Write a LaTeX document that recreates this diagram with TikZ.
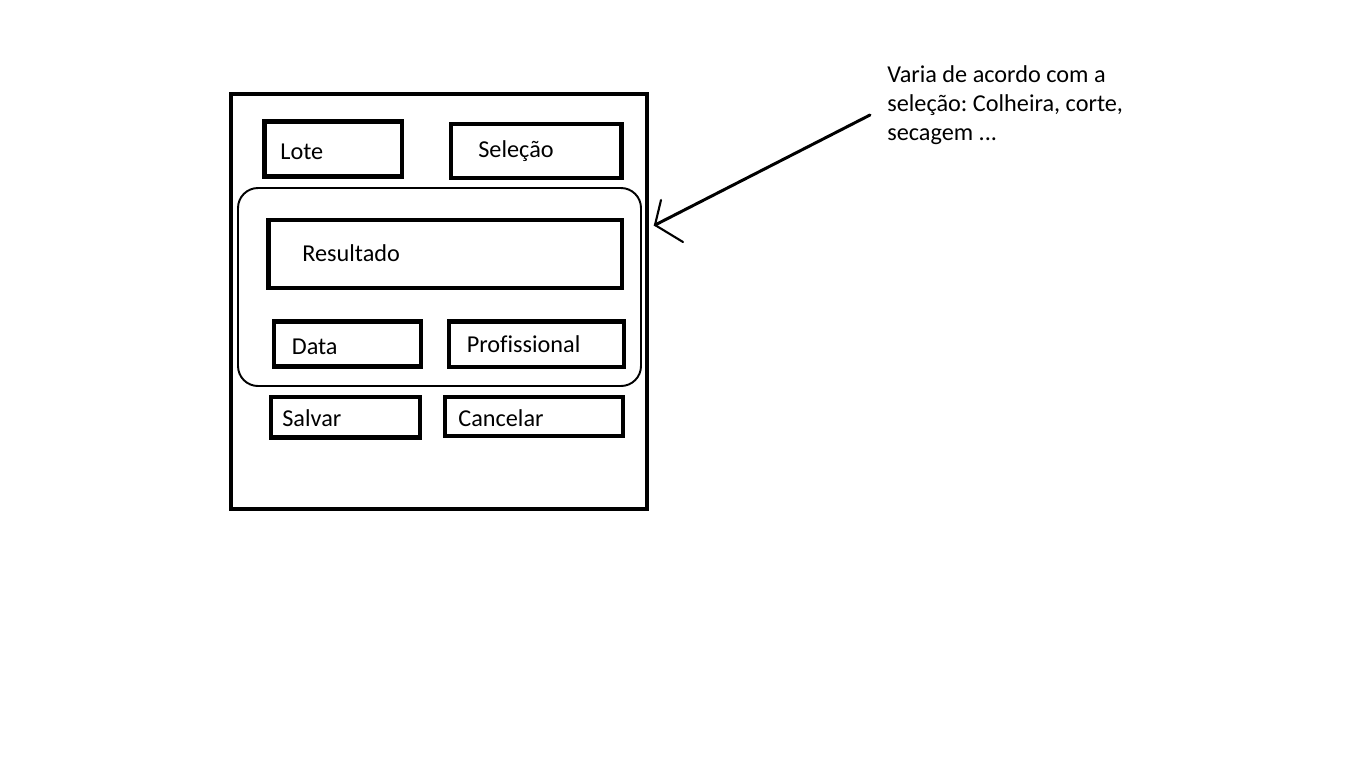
\documentclass[tikz,border=0pt]{standalone}
\usepackage{fontspec}
\setmainfont{Carlito}[Ligatures = CommonOff]
\usetikzlibrary{fit}
\frenchspacing

\tikzset{
  box/.style = {draw, line width = 2.3pt, inner sep = 0pt},
  group/.style = {draw, line width = 1.1pt, inner sep = 0pt, rounded corners = 0.4cm},
  lbl/.style = {anchor = base west, inner sep = 0pt, font = \fontsize{13.8pt}{16.6pt}\selectfont},
}

\begin{document}
\begin{tikzpicture}[x = 0.02cm, y = -0.02cm]
		\useasboundingbox (0, 0) rectangle (1362, 762);
		%%%%%%%%%%%%%
		\node [box, fit = {(231, 94) (647, 509)}] (tela) {};
		\node [box, fit = {(264.5, 121.5) (402, 176.5)}] (lote) {};
		\node [box, fit = {(451, 124) (621.5, 178)}] (selecao) {};
		\node [group, fit = {(238, 188) (641, 386)}] (grupo) {};
		\node [box, fit = {(268.5, 220) (622, 288)}] (resultado) {};
		\node [box, fit = {(274, 321.5) (421, 366.5)}] (data) {};
		\node [box, fit = {(449, 321.5) (624, 367)}] (prof) {};
		\node [box, fit = {(271, 397) (420, 437.5)}] (salvar) {};
		\node [box, fit = {(445, 397) (623, 436)}] (cancelar) {};
		%%%%%%%%%%%%%
		\node [lbl] (lote txt) at (280, 159) {Lote};
		\node [lbl] (selecao txt) at (478, 157.7) {Seleção};
		\node [lbl] (resultado txt) at (302, 261) {Resultado};
		\node [lbl] (data txt) at (291.5, 354) {Data};
		\node [lbl] (prof txt) at (466.5, 352.3) {Profissional};
		\node [lbl] (salvar txt) at (282, 426) {Salvar};
		\node [lbl] (cancelar txt) at (458, 426) {Cancelar};
		%%%%%%%%%%%%%
		% base of a multi-line node is its last line
		\node [lbl, align = left] (nota) at (887, 140.7) {Varia de acordo com a\\ seleção: Colheira, corte,\\ secagem ...};
		\coordinate (cauda) at (870, 115);
		\coordinate (ponta) at (655, 225);
		\draw [line width = 1.7pt, line cap = round] (cauda) to (ponta);
		\draw [line width = 1.2pt, line cap = round] (ponta) to (661, 200);
		\draw [line width = 1.2pt, line cap = round] (ponta) to (683, 242);
\end{tikzpicture}
\end{document}
